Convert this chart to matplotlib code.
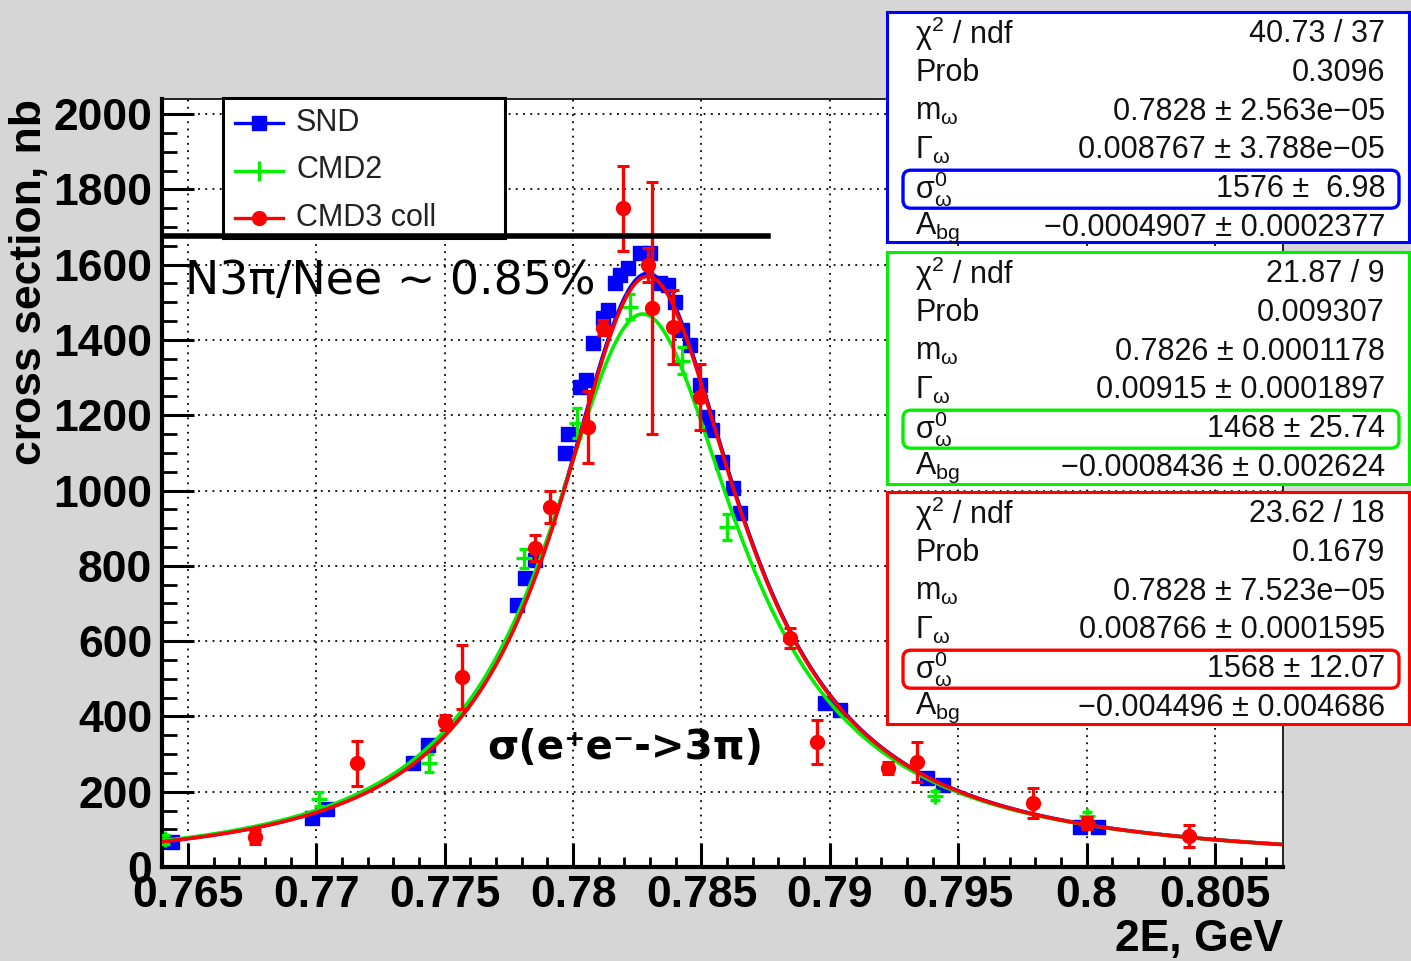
import numpy as np
import matplotlib
matplotlib.use('Agg')
import matplotlib.pyplot as plt
from matplotlib.lines import Line2D
from matplotlib.patches import FancyBboxPatch

W, H = 1411, 961

# SND points (error bars hidden inside the markers)
snd_x = [0.76438, 0.76983, 0.77041, 0.77376, 0.77435, 0.77781, 0.77812, 0.77851,
         0.77968, 0.77980, 0.78027, 0.78050, 0.78078, 0.78116, 0.78135, 0.78163,
         0.78183, 0.78214, 0.78260, 0.78300, 0.78338, 0.78370, 0.78397, 0.78424,
         0.78455, 0.78494, 0.78521, 0.78540, 0.78580, 0.78623, 0.78650, 0.78981,
         0.79039, 0.79378, 0.79440, 0.79974, 0.80044]
snd_y = [66, 130, 154, 276, 324, 696, 767, 815,
         1100, 1150, 1275, 1293, 1392, 1458, 1479, 1551,
         1572, 1591, 1631, 1631, 1551, 1546, 1500, 1426,
         1386, 1280, 1195, 1161, 1076, 1006, 940, 435,
         417, 236, 218, 106, 106]

# CMD2
cmd2_x = [0.76410, 0.77010, 0.77439, 0.77810, 0.78015, 0.78222, 0.78424, 0.78599, 0.79409, 0.80001]
cmd2_y = [74, 181, 276, 820, 1180, 1488, 1345, 903, 189, 135]
cmd2_err = [12, 19, 24, 25, 40, 33, 35, 35, 12, 12]

# CMD3 coll
cmd3_x = [0.76760, 0.77158, 0.77501, 0.77567, 0.77852, 0.77910, 0.78058, 0.78116,
          0.78194, 0.78292, 0.78307, 0.78389, 0.78494, 0.78845, 0.78950, 0.79226,
          0.79339, 0.79791, 0.80001, 0.80399]
cmd3_y = [80, 276, 385, 505, 847, 956, 1169, 1432,
          1750, 1599, 1485, 1434, 1248, 608, 332, 263,
          279, 170, 117, 82]
cmd3_err = [18, 60, 20, 85, 35, 42, 95, 20,
            113, 45, 335, 98, 88, 27, 58, 15,
            53, 40, 15, 30]

# fit results shown in the stat boxes: m, Gamma, sigma0, A_bg
snd_fit = (0.7828, 0.008767, 1576, -0.0004907)
cmd2_fit = (0.7826, 0.00915, 1468, -0.0008436)
cmd3_fit = (0.7828, 0.008766, 1568, -0.004496)

stat_labels = [r'$\mathrm{\chi}^{2}$ / ndf', 'Prob', r'm$_{\mathrm{\omega}}$',
               r'$\mathrm{\Gamma}_{\mathrm{\omega}}$',
               r'$\mathrm{\sigma}^{0}_{\mathrm{\omega}}$', r'A$_{\mathrm{bg}}$']
snd_stats = ['40.73 / 37', '0.3096', '0.7828 ± 2.563e\u221205', '0.008767 ± 3.788e\u221205',
             '1576 ±  6.98', '\u22120.0004907 ± 0.0002377']
cmd2_stats = ['21.87 / 9', '0.009307', '0.7826 ± 0.0001178', '0.00915 ± 0.0001897',
              '1468 ± 25.74', '\u22120.0008436 ± 0.002624']
cmd3_stats = ['23.62 / 18', '0.1679', '0.7828 ± 7.523e\u221205', '0.008766 ± 0.0001595',
              '1568 ± 12.07', '\u22120.004496 ± 0.004686']

M3PI = 0.41412


def omega_bw(E, m, G, s0, A):
    q = (E - M3PI) / (m - M3PI)
    return s0 * (m * G) ** 2 / ((E ** 2 - m ** 2) ** 2 + (m * G) ** 2) * q ** 4 + A


plt.rcParams['font.family'] = ['Liberation Sans', 'DejaVu Sans']
plt.rcParams['mathtext.fontset'] = 'custom'
plt.rcParams['mathtext.rm'] = 'Liberation Sans'
plt.rcParams['mathtext.it'] = 'Liberation Sans:italic'
plt.rcParams['mathtext.bf'] = 'Liberation Sans:bold'

fig = plt.figure(figsize=(W / 100, H / 100), dpi=100, facecolor='#d6d6d6')
ax = fig.add_axes([162 / W, 1 - 867 / H, (1283 - 162) / W, (867 - 99) / H])

xmin, xmax = 0.76399, 0.80765
ax.set_xlim(xmin, xmax)
ax.set_ylim(0, 2040)

ax.grid(True, which='major', linestyle=(0, (1, 3)), color='black', linewidth=1.3)
ax.set_axisbelow(True)

for s in ['left', 'bottom']:
    ax.spines[s].set_linewidth(3)
for s in ['top', 'right']:
    ax.spines[s].set_linewidth(1.2)

ax.set_xticks(np.arange(0.765, 0.806, 0.005))
ax.set_xticklabels(['0.765', '0.77', '0.775', '0.78', '0.785', '0.79', '0.795', '0.8', '0.805'])
ax.set_xticks(np.arange(0.764, 0.8076, 0.001), minor=True)
ax.set_yticks(np.arange(0, 2001, 200))
ax.set_yticks(np.arange(0, 2040, 50), minor=True)

ax.tick_params(axis='x', which='major', direction='in', length=17, width=2.2, pad=6,
               labelsize=32)
ax.tick_params(axis='x', which='minor', direction='in', length=7.5, width=2)
ax.tick_params(axis='y', which='major', direction='in', length=23, width=2.2, pad=7,
               labelsize=32)
ax.tick_params(axis='y', which='minor', direction='in', length=11, width=2)
for lab in ax.get_xticklabels() + ax.get_yticklabels():
    lab.set_fontweight('bold')

ax.set_ylabel('cross section, nb', fontsize=32, fontweight='bold', loc='top', labelpad=2)
ax.set_xlabel('2E, GeV', fontsize=32, fontweight='bold', loc='right', labelpad=2)

xx = np.linspace(xmin, xmax, 800)

ax.plot(snd_x, snd_y, 's', color='#0000ff', ms=10, zorder=3)
ax.plot(xx, omega_bw(xx, *snd_fit), color='#0000ff', lw=2.6, zorder=4)

ax.errorbar(cmd2_x, cmd2_y, yerr=cmd2_err, fmt='+', color='#00f000', ms=11, mew=2.4,
            elinewidth=2.2, capsize=3.5, capthick=2.2, zorder=5)
ax.plot(xx, omega_bw(xx, *cmd2_fit), color='#00f000', lw=2.6, zorder=6)

ax.errorbar(cmd3_x, cmd3_y, yerr=cmd3_err, fmt='o', color='#ff0000', ms=10,
            elinewidth=2.4, capsize=4, capthick=2.2, zorder=7)
ax.plot(xx, omega_bw(xx, *cmd3_fit), color='#ff0000', lw=2.6, zorder=8)

ax.text(0.7649, 1555, 'N3π/Nee ~ 0.85%', fontsize=33, family='DejaVu Sans',
        va='center', ha='left', zorder=9)
ax.text(0.77665, 315, 'σ(e⁺e⁻->3π)', fontsize=29, fontweight='bold', family='DejaVu Sans',
        va='center', ha='left', zorder=9)

# legend box
leg = fig.add_axes([223 / W, 1 - 238 / H, 282 / W, 140 / H])
leg.set_xlim(0, 282)
leg.set_ylim(140, 0)
leg.set_xticks([])
leg.set_yticks([])
for s in leg.spines.values():
    s.set_linewidth(2.2)
leg_entries = [('SND', '#0000ff', 's', 10, 1), ('CMD2', '#00f000', '+', 14, 2.4),
               ('CMD3 coll', '#ff0000', 'o', 10, 1)]
for i, (name, col, mk, ms, mew) in enumerate(leg_entries):
    yy = 25 + i * 47.5
    leg.plot([12, 60], [yy, yy], color=col, lw=2.4)
    leg.plot([36], [yy], mk, color=col, ms=ms, mew=mew)
    leg.text(73, yy, name, fontsize=22, va='center', ha='left', color='#222222')

# thick black line across the top of the plot
y_line = 1676
fig.add_artist(Line2D([0.7641, 0.7876], [y_line, y_line], transform=ax.transData,
                      color='black', lw=4, zorder=10))

# stat boxes
boxes = [(12, 242, '#0000ff', snd_stats), (252, 484, '#00f000', cmd2_stats),
         (492, 724, '#ff0000', cmd3_stats)]
for top, bot, col, vals in boxes:
    sb = fig.add_axes([887 / W, 1 - bot / H, (W - 889) / W, (bot - top) / H])
    sb.set_xlim(887, W - 2)
    sb.set_ylim(bot, top)
    sb.set_xticks([])
    sb.set_yticks([])
    for s in sb.spines.values():
        s.set_linewidth(2.2)
        s.set_color(col)
    for i, (lab, val) in enumerate(zip(stat_labels, vals)):
        yy = top + 22 + i * 38.8
        sb.text(915, yy, lab, fontsize=22, va='center', ha='left', color='#111111')
        sb.text(1385, yy, val, fontsize=22, va='center', ha='right', color='#111111')
    hy = top + 22 + 4 * 38.8
    sb.add_patch(FancyBboxPatch((903, hy - 19), 496, 38,
                                boxstyle='round,pad=0,rounding_size=8',
                                fill=False, edgecolor=col, lw=2.4))

fig.savefig('out.png', dpi=100, facecolor=fig.get_facecolor())
